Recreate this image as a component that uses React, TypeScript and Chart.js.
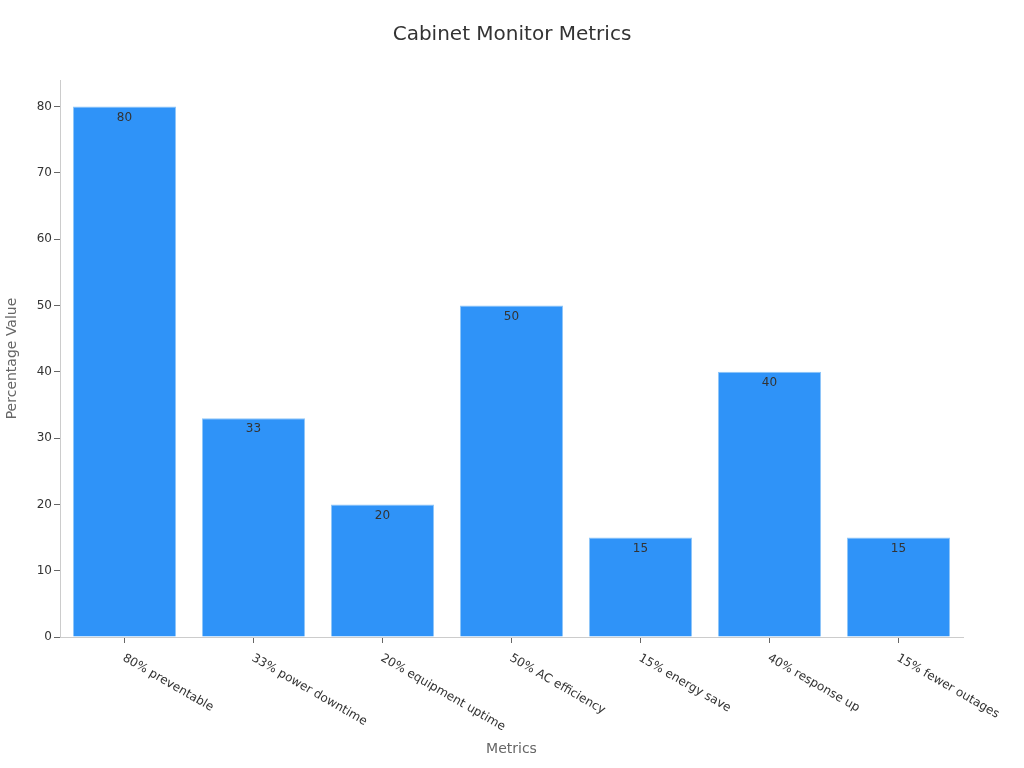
import { useEffect, useRef } from "react";
import { Chart, registerables } from "chart.js";

Chart.register(...registerables);

const categories = [
  "80% preventable",
  "33% power downtime",
  "20% equipment uptime",
  "50% AC efficiency",
  "15% energy save",
  "40% response up",
  "15% fewer outages",
];
const values = [80, 33, 20, 50, 15, 40, 15];
const yTicks = [0, 10, 20, 30, 40, 50, 60, 70, 80];

const FONT = "'DejaVu Sans', sans-serif";

// rotated category labels (start at the tick, run down to the right) and value labels in bars
const labelPlugin = {
  id: "customLabels",
  afterDraw(chart: any) {
    const ctx = chart.ctx;
    const xScale = chart.scales.x;
    const bottom = chart.chartArea.bottom;
    ctx.save();
    ctx.font = `12px ${FONT}`;
    ctx.fillStyle = "#333333";
    ctx.textAlign = "left";
    ctx.textBaseline = "top";
    categories.forEach((label, i) => {
      const x = xScale.getPixelForTick(i);
      ctx.save();
      ctx.translate(x + 2, bottom + 15);
      ctx.rotate(Math.PI / 6);
      ctx.fillText(label, 0, 0);
      ctx.restore();
    });

    const meta = chart.getDatasetMeta(0);
    ctx.textAlign = "center";
    ctx.textBaseline = "middle";
    meta.data.forEach((bar: any, i: number) => {
      ctx.fillText(String(values[i]), bar.x, bar.y + 11);
    });
    ctx.restore();
  },
};

export default function App() {
  const chartRef = useRef<HTMLCanvasElement>(null);
  const chartInstance = useRef<Chart | null>(null);

  useEffect(() => {
    if (!chartRef.current) return;
    if (chartInstance.current) chartInstance.current.destroy();

    chartInstance.current = new Chart(chartRef.current, {
      type: "bar",
      data: {
        labels: categories,
        datasets: [
          {
            label: "Percentage Value",
            data: values,
            backgroundColor: "#2f93f8",
            borderColor: "#8fc6f8",
            borderWidth: 1,
            barPercentage: 0.8,
            categoryPercentage: 1,
          },
        ],
      },
      options: {
        animation: false,
        responsive: false,
        maintainAspectRatio: false,
        layout: { padding: 0 },
        plugins: {
          legend: { display: false },
          tooltip: { enabled: false },
          title: {
            display: true,
            text: "Cabinet Monitor Metrics",
            color: "#333333",
            font: { family: FONT, size: 20, weight: "normal" },
            padding: { top: 23, bottom: 33 },
          },
        },
        scales: {
          x: {
            grid: {
              display: true,
              drawOnChartArea: false,
              offset: false,
              tickLength: 6,
              color: "#666666",
            },
            border: { color: "#cccccc" },
            ticks: { display: false },
            title: {
              display: true,
              text: "Metrics",
              color: "#666666",
              font: { family: FONT, size: 14 },
              padding: { top: 4, bottom: 10 },
            },
            afterFit(scale: any) {
              scale.height = 131;
            },
          },
          y: {
            min: 0,
            max: 84,
            grid: {
              drawOnChartArea: false,
              tickLength: 6,
              color: "#666666",
            },
            border: { color: "#cccccc" },
            ticks: {
              stepSize: 10,
              padding: 2,
              color: "#333333",
              font: { family: FONT, size: 12 },
            },
            afterBuildTicks(scale: any) {
              scale.ticks = yTicks.map((v) => ({ value: v }));
            },
            title: {
              display: true,
              text: "Percentage Value",
              color: "#666666",
              font: { family: FONT, size: 14 },
              padding: { top: 4, bottom: 4 },
            },
            afterFit(scale: any) {
              scale.width = 60;
            },
          },
          // empty right-hand spacer so the title stays centred on the page
          spacer: {
            type: "linear",
            position: "right",
            display: true,
            grid: { display: false },
            border: { display: false },
            ticks: { display: false },
            afterFit(scale: any) {
              scale.width = 61;
            },
          },
        },
      },
      plugins: [labelPlugin],
    });

    return () => {
      if (chartInstance.current) {
        chartInstance.current.destroy();
        chartInstance.current = null;
      }
    };
  }, []);

  return (
    <div style={{ position: "fixed", left: 0, top: 0, width: 1024, height: 768, background: "#ffffff" }}>
      <canvas ref={chartRef} width={1024} height={768} style={{ width: 1024, height: 768 }} />
    </div>
  );
}
